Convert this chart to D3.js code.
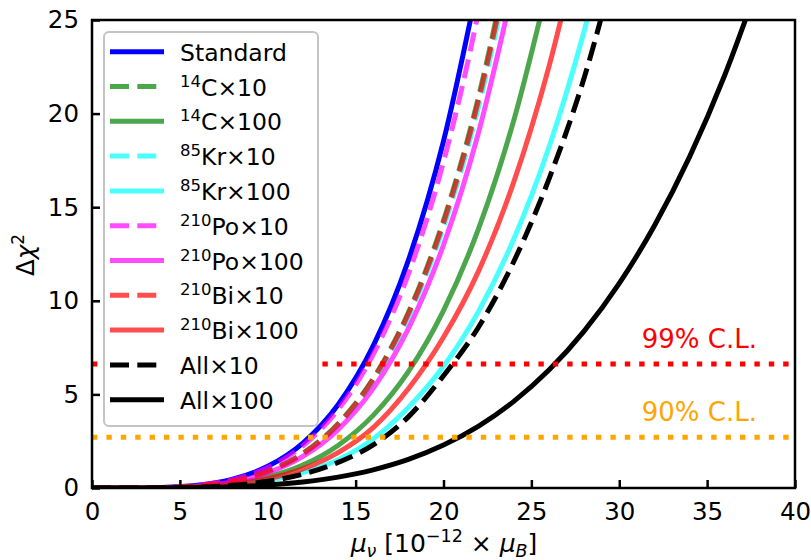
<!DOCTYPE html>
<html><head><meta charset="utf-8">
<script src="https://cdn.jsdelivr.net/npm/d3@7"></script>
<style>body{margin:0;background:#fff} text{font-family:"DejaVu Sans",sans-serif}</style>
</head><body><svg id="c" width="811" height="560"></svg>
<script>
// x grid shared by every curve (mu_nu in 1e-12 mu_B)
const xGrid = [0,2,4,6,8,10,12,14,16,18,20,22,24,26,28,30,32,34,36,38];
// Delta chi^2 values
const standard  = [0,0.0019,0.030,0.150,0.474,1.158,2.401,4.448,7.589,12.16,18.53,27.13];
const c14x10    = [0,0.0014,0.0229,0.116,0.366,0.893,1.852,3.432,5.855,9.378,14.29,20.93,29.64];
const c14x100   = [0,0.0009,0.0152,0.0767,0.243,0.592,1.228,2.274,3.880,6.215,9.473,13.87,19.64,27.06];
const kr85x10   = [0,0.0014,0.0223,0.113,0.356,0.870,1.805,3.343,5.704,9.136,13.93,20.39,28.88];
const kr85x100  = [0,0.0006,0.0101,0.0511,0.161,0.394,0.817,1.514,2.62,4.30,6.50,9.45,13.3,18.2,24.4,32.0];
const po210x10  = [0,0.0017,0.028,0.141,0.446,1.089,2.258,4.182,7.135,11.43,17.42,25.50,36.12];
const po210x100 = [0,0.0013,0.0208,0.105,0.332,0.811,1.683,3.117,5.318,8.518,12.98,19.01,26.92];
const bi210x10  = [0,0.0014,0.0227,0.115,0.362,0.885,1.835,3.400,5.800,9.290,14.16,20.73,29.36];
const bi210x100 = [0,0.0008,0.0126,0.0638,0.202,0.493,1.022,1.893,3.229,5.30,8.05,11.6,16.35,22.51,30.28];
const allx10    = [0,0.0006,0.0091,0.0461,0.146,0.356,0.737,1.366,2.30,3.80,6.0,8.6,12.1,16.5,21.9,28.8];
const allx100   = [0,0.0003,0.0047,0.0223,0.0674,0.159,0.321,0.581,0.972,1.529,2.294,3.311,4.627,6.298,8.381,10.93,14.01,17.69,22.05,27.16];

const xTicks = [0,5,10,15,20,25,30,35,40];
const yTicks = [0,5,10,15,20,25];
const clLevels = [6.63, 2.71];
const clLabels = ["99% C.L.", "90% C.L."];

const series = [
  {sup:"", name:"Standard", v:standard, c:"#0000ff", a:1, d:false},
  {sup:"14", name:"C×10", v:c14x10, c:"#008000", a:0.7, d:true},
  {sup:"14", name:"C×100", v:c14x100, c:"#008000", a:0.7, d:false},
  {sup:"85", name:"Kr×10", v:kr85x10, c:"#00ffff", a:0.7, d:true},
  {sup:"85", name:"Kr×100", v:kr85x100, c:"#00ffff", a:0.7, d:false},
  {sup:"210", name:"Po×10", v:po210x10, c:"#ff00ff", a:0.7, d:true},
  {sup:"210", name:"Po×100", v:po210x100, c:"#ff00ff", a:0.7, d:false},
  {sup:"210", name:"Bi×10", v:bi210x10, c:"#ff0000", a:0.7, d:true},
  {sup:"210", name:"Bi×100", v:bi210x100, c:"#ff0000", a:0.7, d:false},
  {sup:"", name:"All×10", v:allx10, c:"#000000", a:1, d:true},
  {sup:"", name:"All×100", v:allx100, c:"#000000", a:1, d:false}
];

const svg = d3.select("#c");
const m = {l:92, r:795, t:20, b:488};
const x = d3.scaleLinear().domain([0,40]).range([m.l,m.r]);
const y = d3.scaleLinear().domain([0,25]).range([m.b,m.t]);

svg.append("clipPath").attr("id","clip").append("rect")
  .attr("x",m.l).attr("y",m.t).attr("width",m.r-m.l).attr("height",m.b-m.t);

const plot = svg.append("g").attr("clip-path","url(#clip)");
const line = d3.line().x((d,i)=>x(xGrid[i])).y(d=>y(d)).curve(d3.curveMonotoneX);
const LW = 5, DASH = "19,8.3";

series.forEach(s=>{
  plot.append("path").attr("d", line(s.v)).attr("fill","none")
    .attr("stroke", s.c).attr("stroke-opacity", s.a).attr("stroke-width", LW)
    .attr("stroke-dasharray", s.d ? DASH : null);
});

const clColors = ["#ff0000","#ffa500"];
clLevels.forEach((lv,i)=>{
  plot.append("line").attr("x1",x(0)).attr("x2",x(40)).attr("y1",y(lv)).attr("y2",y(lv))
    .attr("stroke",clColors[i]).attr("stroke-width",5).attr("stroke-dasharray","5.4,9");
  svg.append("text").attr("x",757).attr("y",y(lv)-16).attr("text-anchor","end")
    .attr("fill",clColors[i]).attr("font-size",26).text(clLabels[i]);
});

// axes
const gx = svg.append("g").attr("transform",`translate(0,${m.b})`)
  .call(d3.axisBottom(x).tickValues(xTicks).tickSizeInner(-8).tickSizeOuter(0).tickPadding(15));
const gy = svg.append("g").attr("transform",`translate(${m.l},0)`)
  .call(d3.axisLeft(y).tickValues(yTicks).tickSizeInner(-8).tickSizeOuter(0).tickPadding(13));
[gx,gy].forEach(g=>{
  g.select(".domain").remove();
  g.selectAll(".tick line").attr("stroke","#000").attr("stroke-width",2.5);
  g.selectAll(".tick text").attr("font-size",24.5).attr("fill","#000").attr("font-family","DejaVu Sans");
});
svg.append("rect").attr("x",m.l).attr("y",m.t).attr("width",m.r-m.l).attr("height",m.b-m.t)
  .attr("fill","none").attr("stroke","#000").attr("stroke-width",2.5);

// legend
const lg = svg.append("g");
lg.append("rect").attr("x",104).attr("y",32).attr("width",214).attr("height",394).attr("rx",5)
  .attr("fill","#fff").attr("fill-opacity",1).attr("stroke","#c4c4c4").attr("stroke-width",2);
series.forEach((s,i)=>{
  const cy = 51.7 + i*34.8;
  lg.append("line").attr("x1",110).attr("x2",164).attr("y1",cy).attr("y2",cy)
    .attr("stroke",s.c).attr("stroke-opacity",s.a).attr("stroke-width",LW)
    .attr("stroke-dasharray", s.d ? DASH : null);
  const t = lg.append("text").attr("x",180).attr("y",cy+9).attr("font-size",23.5).attr("fill","#000");
  if (s.sup) t.append("tspan").attr("font-size",16.5).attr("dy",-9).text(s.sup);
  t.append("tspan").attr("dy", s.sup ? 9 : 0).text(s.name);
});

// axis labels
const xl = svg.append("text").attr("x",444).attr("y",552).attr("text-anchor","middle").attr("font-size",25);
xl.append("tspan").attr("font-style","italic").text("μ");
xl.append("tspan").attr("font-style","italic").attr("font-size",17.5).attr("dy",5).text("ν");
xl.append("tspan").attr("dy",-5).text(" [10");
xl.append("tspan").attr("font-size",17.5).attr("dy",-10).text("−12");
xl.append("tspan").attr("dy",10).text(" × ");
xl.append("tspan").attr("font-style","italic").text("μ");
xl.append("tspan").attr("font-style","italic").attr("font-size",17.5).attr("dy",5).text("B");
xl.append("tspan").attr("dy",-5).text("]");

const yl = svg.append("text").attr("transform","translate(34,255) rotate(-90)")
  .attr("text-anchor","middle").attr("font-size",24.5);
yl.append("tspan").text("Δ");
yl.append("tspan").attr("font-style","italic").text("χ");
yl.append("tspan").attr("font-size",17).attr("dy",-10).text("2");
</script></body></html>
